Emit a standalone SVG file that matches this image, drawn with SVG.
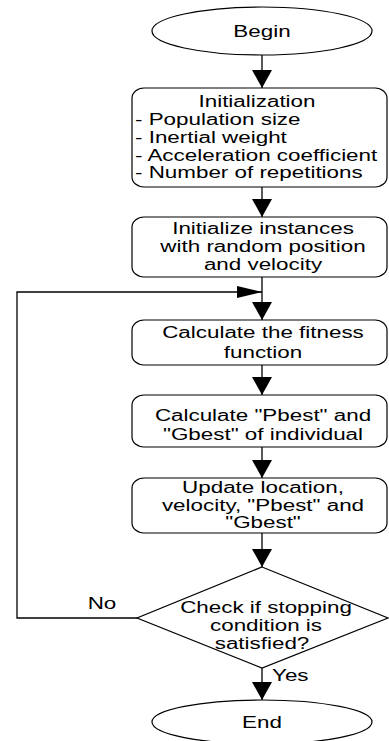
<svg xmlns="http://www.w3.org/2000/svg" width="389" height="741" viewBox="0 0 389 741">
<defs>
<style>
.shape{fill:#fff;stroke:#000;stroke-width:1.2}
.conn{fill:none;stroke:#000;stroke-width:1.3}
text{font-family:"Liberation Sans",Arial,sans-serif;font-size:16px;fill:#000}
.c{text-anchor:middle}
</style>
<marker id="arrDown" viewBox="0 0 18 20" markerWidth="18" markerHeight="20" refX="18" refY="10" orient="auto" markerUnits="userSpaceOnUse">
<path d="M0,0 L18,10 L0,20 Z" fill="#000"/>
</marker>
<marker id="arrRight" viewBox="0 0 25 12" markerWidth="25" markerHeight="12" refX="25" refY="6" orient="auto" markerUnits="userSpaceOnUse">
<path d="M0,0 L25,6 L0,12 Z" fill="#000"/>
</marker>
</defs>
<rect width="389" height="741" fill="#fff"/>
<g id="connectors">
<line class="conn" x1="262" y1="55" x2="262" y2="88" marker-end="url(#arrDown)"/>
<line class="conn" x1="262" y1="187" x2="262" y2="217" marker-end="url(#arrDown)"/>
<line class="conn" x1="262" y1="277" x2="262" y2="320" marker-end="url(#arrDown)"/>
<line class="conn" x1="262" y1="365" x2="262" y2="395" marker-end="url(#arrDown)"/>
<line class="conn" x1="262" y1="447" x2="262" y2="478" marker-end="url(#arrDown)"/>
<line class="conn" x1="262" y1="533" x2="262" y2="567" marker-end="url(#arrDown)"/>
<line class="conn" x1="262" y1="668" x2="262" y2="700" marker-end="url(#arrDown)"/>
<polyline class="conn" points="137,618 17,618 17,292 262,292" marker-end="url(#arrRight)"/>
<text transform="translate(102,609) scale(1.4,1)" class="c">No</text>
<text transform="translate(272,681) scale(1.4,1)">Yes</text>
</g>
<g id="begin">
<ellipse class="shape" cx="262" cy="31" rx="110" ry="24"/>
<text transform="translate(262,37) scale(1.4,1)" class="c">Begin</text>
</g>
<g id="init">
<rect class="shape" x="132" y="88" width="255" height="99" rx="12" ry="10"/>
<text transform="translate(257,107) scale(1.4,1)" class="c">Initialization</text>
<text transform="translate(135,125) scale(1.4,1)">- Population size</text>
<text transform="translate(135,143) scale(1.4,1)">- Inertial weight</text>
<text transform="translate(135,161) scale(1.4,1)">- Acceleration coefficient</text>
<text transform="translate(135,178) scale(1.4,1)">- Number of repetitions</text>
</g>
<g id="initInstances">
<rect class="shape" x="132" y="217" width="255" height="60" rx="12" ry="10"/>
<text transform="translate(263,234) scale(1.4,1)" class="c">Initialize instances</text>
<text transform="translate(263,252) scale(1.4,1)" class="c">with random position</text>
<text transform="translate(263,270) scale(1.4,1)" class="c">and velocity</text>
</g>
<g id="fitness">
<rect class="shape" x="132" y="320" width="255" height="45" rx="12" ry="10"/>
<text transform="translate(263,338) scale(1.4,1)" class="c">Calculate the fitness</text>
<text transform="translate(263,358) scale(1.4,1)" class="c">function</text>
</g>
<g id="pbest">
<rect class="shape" x="132" y="395" width="255" height="52" rx="12" ry="10"/>
<text transform="translate(263,421) scale(1.4,1)" class="c">Calculate "Pbest" and</text>
<text transform="translate(263,440) scale(1.4,1)" class="c">"Gbest" of individual</text>
</g>
<g id="update">
<rect class="shape" x="132" y="478" width="255" height="55" rx="12" ry="10"/>
<text transform="translate(263,493) scale(1.4,1)" class="c">Update location,</text>
<text transform="translate(263,511) scale(1.4,1)" class="c">velocity, "Pbest" and</text>
<text transform="translate(263,528) scale(1.4,1)" class="c">"Gbest"</text>
</g>
<g id="check">
<polygon class="shape" points="262,567 388,618 262,668 137,618"/>
<text transform="translate(266,613) scale(1.4,1)" class="c">Check if stopping</text>
<text transform="translate(266,631) scale(1.4,1)" class="c">condition is</text>
<text transform="translate(262,649) scale(1.4,1)" class="c">satisfied?</text>
</g>
<g id="end">
<ellipse class="shape" cx="262" cy="722" rx="110" ry="22"/>
<text transform="translate(262,728) scale(1.4,1)" class="c">End</text>
</g>
</svg>
